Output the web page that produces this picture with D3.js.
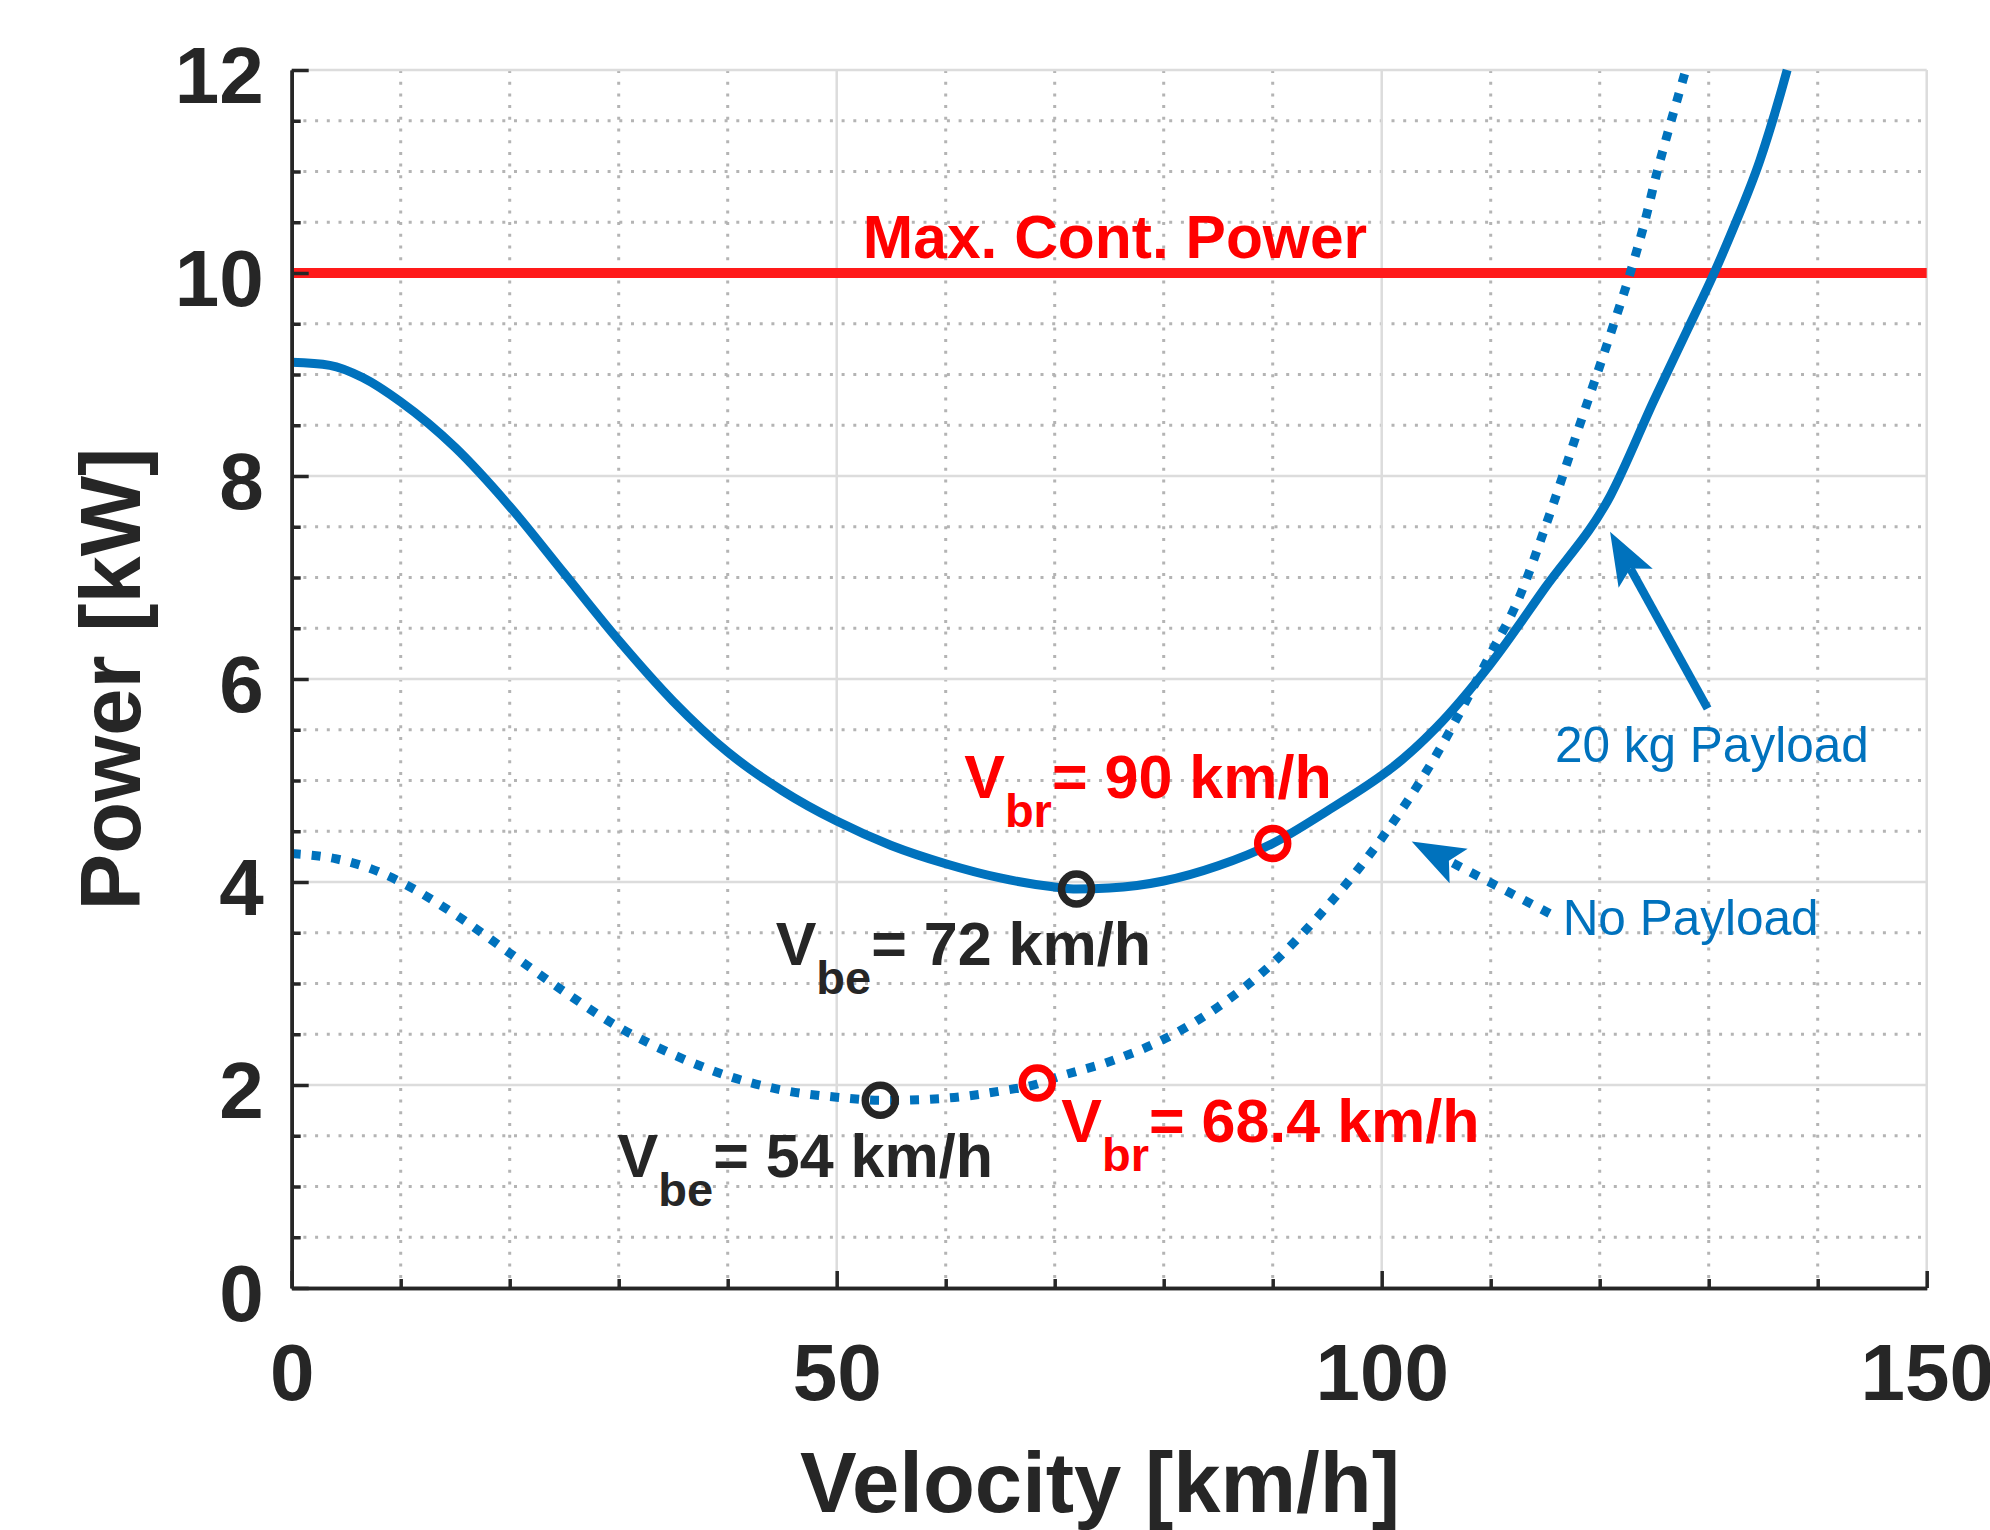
<html lang="en">
<head>
<meta charset="utf-8">
<title>Power vs Velocity</title>
<script src="https://cdn.jsdelivr.net/npm/d3@7"></script>
<style>
  body { margin: 0; background: #fff; }
  text { font-family: "Liberation Sans", Arial, sans-serif; }
</style>
</head>
<body>
<script>
// ---- data ----
var velPayload = [0, 3.5, 6.5, 10, 15, 20, 25, 30, 35, 40, 45, 50, 55, 60, 65, 70, 72, 75, 80, 85, 90, 95, 100, 101, 105, 110, 115, 121, 125, 128, 130.5, 132.3, 134.7, 136.6, 137.2];
var powPayload = [9.12, 9.09, 8.97, 8.73, 8.28, 7.70, 7.04, 6.38, 5.78, 5.28, 4.90, 4.60, 4.36, 4.18, 4.04, 3.95, 3.93, 3.94, 4.01, 4.16, 4.38, 4.70, 5.05, 5.13, 5.52, 6.15, 6.90, 7.81, 8.75, 9.43, 10.0, 10.45, 11.11, 11.77, 12.0];

var velNoPayload = [0, 4, 8, 10, 15, 20, 25, 30, 35, 40, 45, 50, 54, 55, 60, 65, 68.4, 70, 75, 80, 85, 90, 95, 100, 105, 110, 112.4, 115.5, 118, 121.3, 122.8, 124.1, 125.3, 126.4, 127.9];
var powNoPayload = [4.28, 4.23, 4.10, 4.00, 3.68, 3.30, 2.92, 2.57, 2.30, 2.09, 1.95, 1.88, 1.85, 1.85, 1.87, 1.94, 2.01, 2.07, 2.23, 2.45, 2.77, 3.20, 3.76, 4.43, 5.25, 6.25, 6.75, 7.65, 8.45, 9.5, 10.0, 10.49, 11.01, 11.44, 12.0];

var maxContPower = 10;

var bestEnduranceV = [54, 72];
var bestEnduranceP = [1.85, 3.93];
var bestRangeV = [68.4, 90];
var bestRangeP = [2.02, 4.38];

var xTicks = [0, 50, 100, 150];
var yTicks = [0, 2, 4, 6, 8, 10, 12];

// ---- layout ----
var width = 1990, height = 1530;
var plotLeft = 291.7, plotRight = 1926.7, plotTop = 70, plotBottom = 1288;
var blue = "#0072bd", dark = "#262626";

var svg = d3.select("body").append("svg").attr("width", width).attr("height", height);

var x = d3.scaleLinear().domain([0, 150]).range([plotLeft, plotRight]);
var y = d3.scaleLinear().domain([0, 12]).range([plotBottom, plotTop]);

// minor dotted grid
var xMinor = d3.range(10, 150, 10).filter(function (d) { return d % 50 != 0; });
var yMinor = d3.range(0.5, 12, 0.5).filter(function (d) { return d % 2 != 0; });
svg.append("g").selectAll("line").data(xMinor).enter().append("line")
  .attr("x1", function (d) { return x(d); }).attr("x2", function (d) { return x(d); })
  .attr("y1", plotTop).attr("y2", plotBottom)
  .attr("stroke", "#b4b4b4").attr("stroke-width", 3).attr("stroke-dasharray", "3,8.7");
svg.append("g").selectAll("line").data(yMinor).enter().append("line")
  .attr("y1", function (d) { return y(d); }).attr("y2", function (d) { return y(d); })
  .attr("x1", plotLeft).attr("x2", plotRight)
  .attr("stroke", "#b4b4b4").attr("stroke-width", 3).attr("stroke-dasharray", "3,8.7");

// major solid grid
svg.append("g").selectAll("line").data(xTicks.slice(1)).enter().append("line")
  .attr("x1", function (d) { return x(d); }).attr("x2", function (d) { return x(d); })
  .attr("y1", plotTop).attr("y2", plotBottom)
  .attr("stroke", "#dcdcdc").attr("stroke-width", 2.5);
svg.append("g").selectAll("line").data(yTicks.slice(1)).enter().append("line")
  .attr("y1", function (d) { return y(d); }).attr("y2", function (d) { return y(d); })
  .attr("x1", plotLeft).attr("x2", plotRight)
  .attr("stroke", "#dcdcdc").attr("stroke-width", 2.5);

// max continuous power
svg.append("line").attr("x1", x(0)).attr("x2", x(150)).attr("y1", y(maxContPower)).attr("y2", y(maxContPower))
  .attr("stroke", "#ff1a1a").attr("stroke-width", 10);

// curves
svg.append("clipPath").attr("id", "plotclip").append("rect")
  .attr("x", plotLeft).attr("y", plotTop - 2).attr("width", plotRight - plotLeft).attr("height", plotBottom - plotTop + 2);

var line = d3.line().x(function (d) { return x(d[0]); }).y(function (d) { return y(d[1]); }).curve(d3.curveMonotoneX);

svg.append("path").attr("d", line(d3.zip(velNoPayload, powNoPayload)))
  .attr("clip-path", "url(#plotclip)")
  .attr("fill", "none").attr("stroke", blue).attr("stroke-width", 9).attr("stroke-dasharray", "9,11");
svg.append("path").attr("d", line(d3.zip(velPayload, powPayload)))
  .attr("clip-path", "url(#plotclip)")
  .attr("fill", "none").attr("stroke", blue).attr("stroke-width", 9);

// annotation arrows
function arrow(v0, p0, v1, p1, dashed) {
  var x0 = x(v0), y0 = y(p0), x1 = x(v1), y1 = y(p1);
  var len = Math.hypot(x1 - x0, y1 - y0);
  var ux = (x1 - x0) / len, uy = (y1 - y0) / len;
  var nx = -uy, ny = ux;
  var L = 53, W = 19.5, N = 42;
  var shaft = svg.append("line").attr("x1", x0).attr("y1", y0)
    .attr("x2", x1 - ux * N).attr("y2", y1 - uy * N)
    .attr("stroke", blue).attr("stroke-width", dashed ? 9 : 8.5);
  if (dashed) shaft.attr("stroke-dasharray", "9,11");
  var pts = [[x1, y1], [x1 - ux * L + nx * W, y1 - uy * L + ny * W], [x1 - ux * N, y1 - uy * N], [x1 - ux * L - nx * W, y1 - uy * L - ny * W]];
  svg.append("path").attr("d", "M" + pts.join("L") + "Z").attr("fill", blue);
}
arrow(129.9, 5.71, 120.95, 7.45, false);
arrow(115.4, 3.69, 102.75, 4.40, true);

// markers
svg.append("g").selectAll("circle").data(d3.zip(bestEnduranceV, bestEnduranceP)).enter().append("circle")
  .attr("cx", function (d) { return x(d[0]); }).attr("cy", function (d) { return y(d[1]); })
  .attr("r", 15).attr("fill", "none").attr("stroke", dark).attr("stroke-width", 7.5);
svg.append("g").selectAll("circle").data(d3.zip(bestRangeV, bestRangeP)).enter().append("circle")
  .attr("cx", function (d) { return x(d[0]); }).attr("cy", function (d) { return y(d[1]); })
  .attr("r", 15).attr("fill", "none").attr("stroke", "#ff0000").attr("stroke-width", 7.5);

// text labels
svg.append("text").attr("x", x(52.4)).attr("y", y(10.15))
  .attr("font-size", 60.5).attr("font-weight", "bold").attr("fill", "#ff0000").text("Max. Cont. Power");

function subLabel(v, p, sub, rest, color) {
  var t = svg.append("text").attr("x", x(v)).attr("y", y(p))
    .attr("font-size", 61).attr("font-weight", "bold").attr("fill", color);
  t.append("tspan").text("V");
  t.append("tspan").attr("font-size", 47).attr("dy", 29).text(sub);
  t.append("tspan").attr("dy", -29).text(rest);
}
subLabel(61.7, 4.83, "br", "= " + bestRangeV[1] + " km/h", "#ff0000");
subLabel(44.4, 3.18, "be", "= " + bestEnduranceV[1] + " km/h", dark);
subLabel(29.9, 1.09, "be", "= " + bestEnduranceV[0] + " km/h", dark);
subLabel(70.6, 1.44, "br", "= " + bestRangeV[0] + " km/h", "#ff0000");

svg.append("text").attr("x", x(115.9)).attr("y", y(5.18))
  .attr("font-size", 49.5).attr("fill", blue).text("20 kg Payload");
svg.append("text").attr("x", x(116.6)).attr("y", y(3.48))
  .attr("font-size", 49.5).attr("fill", blue).text("No Payload");

// axes
var yAxis = svg.append("g").attr("transform", "translate(" + plotLeft + ",0)")
  .call(d3.axisLeft(y).tickValues(yTicks).tickSize(-17).tickSizeOuter(0).tickPadding(28));
svg.append("g").attr("transform", "translate(" + plotLeft + ",0)")
  .call(d3.axisLeft(y).tickValues(yMinor).tickSize(-9).tickSizeOuter(0).tickFormat(""));
var xAxis = svg.append("g").attr("transform", "translate(0," + plotBottom + ")")
  .call(d3.axisBottom(x).tickValues(xTicks).tickSize(-17).tickSizeOuter(0));
svg.append("g").attr("transform", "translate(0," + plotBottom + ")")
  .call(d3.axisBottom(x).tickValues(xMinor).tickSize(-9).tickSizeOuter(0).tickFormat(""));

svg.selectAll(".domain").attr("stroke", dark).attr("stroke-width", 3.5);
svg.selectAll(".tick line").attr("stroke", dark).attr("stroke-width", 3.5);
yAxis.selectAll("text").attr("font-size", 80).attr("font-weight", "bold").attr("fill", dark)
  .attr("font-family", "'Liberation Sans', Arial, sans-serif").attr("dy", "0.41em");
xAxis.selectAll("text").attr("font-size", 80).attr("font-weight", "bold").attr("fill", dark)
  .attr("font-family", "'Liberation Sans', Arial, sans-serif").attr("y", 112).attr("dy", 0);

// axis titles
svg.append("text").attr("transform", "translate(140," + (plotTop + plotBottom) / 2 + ") rotate(-90)")
  .attr("text-anchor", "middle").attr("font-size", 85).attr("font-weight", "bold").attr("fill", dark)
  .text("Power [kW]");
svg.append("text").attr("x", 1100).attr("y", 1512)
  .attr("text-anchor", "middle").attr("font-size", 85).attr("font-weight", "bold").attr("fill", dark)
  .text("Velocity [km/h]");
</script>
</body>
</html>
